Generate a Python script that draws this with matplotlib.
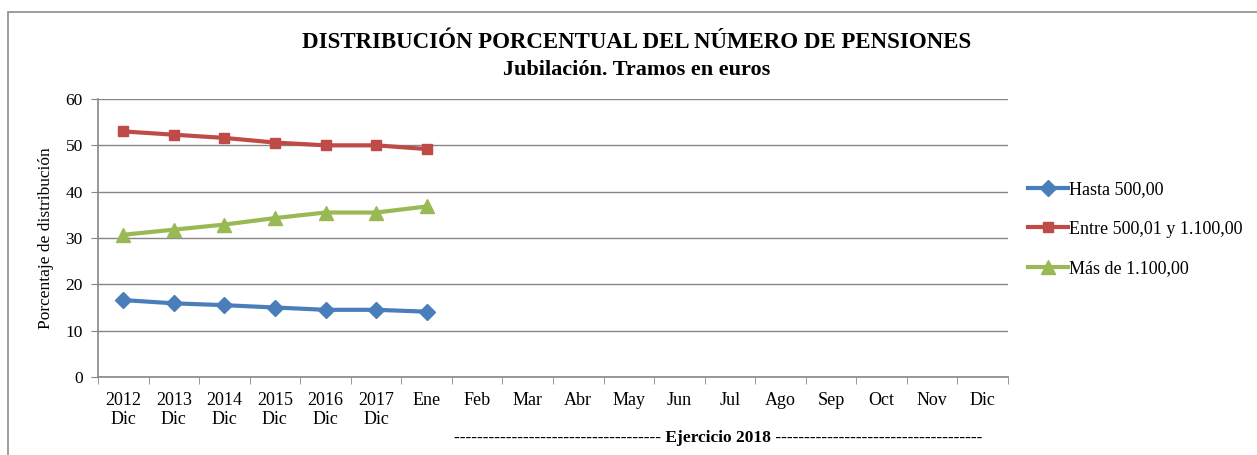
import matplotlib.pyplot as plt
import matplotlib.patches as patches
import numpy as np

plt.rcParams['font.family'] = ['Liberation Serif', 'DejaVu Serif']

# Categories (18 slots: 6 year-end points + 12 months of 2018)
categories = ['2012\nDic', '2013\nDic', '2014\nDic', '2015\nDic', '2016\nDic', '2017\nDic',
              'Ene', 'Feb', 'Mar', 'Abr', 'May', 'Jun', 'Jul', 'Ago', 'Sep', 'Oct', 'Nov', 'Dic']

hasta_500 = [16.6, 15.9, 15.5, 15.0, 14.5, 14.5, 14.1]
entre_500_1100 = [53.0, 52.3, 51.6, 50.6, 50.0, 50.0, 49.2]
mas_1100 = [30.7, 31.8, 32.9, 34.3, 35.5, 35.5, 36.8]

labels = ['Hasta 500,00', 'Entre 500,01 y 1.100,00', 'Más de 1.100,00']
colors = ['#4A7EBB', '#BE4B48', '#98B954']
markers = ['D', 's', '^']
msizes = [8, 7, 10]

fig = plt.figure(figsize=(12.57, 4.55), dpi=100)
ax = fig.add_axes([98 / 1257, 1 - 377 / 455, 910 / 1257, 278 / 455])

# outer chart frame
fig.patches.append(patches.Rectangle((8 / 1257, -0.1), 1.1, 1 - 12 / 455 + 0.1,
                                     transform=fig.transFigure, fill=False,
                                     edgecolor='#8C8C8C', linewidth=1.2))

x = np.arange(len(hasta_500))
for vals, lab, c, m, ms in zip([hasta_500, entre_500_1100, mas_1100], labels, colors, markers, msizes):
    ax.plot(x, vals, color=c, linewidth=3, marker=m, markersize=ms, label=lab, zorder=3)

ax.set_xlim(-0.5, len(categories) - 0.5)
ax.set_ylim(0, 60)
ax.set_yticks(range(0, 61, 10))
ax.set_xticks(np.arange(len(categories)))
ax.set_xticklabels(categories, fontsize=13, va='top', linespacing=1.1)
ax.set_xticks(np.arange(-0.5, len(categories), 1), minor=True)
ax.tick_params(axis='x', which='major', length=0, pad=11)
ax.tick_params(axis='x', which='minor', length=5, color='#868686', direction='out')
ax.tick_params(axis='y', labelsize=12.5, length=5, color='#868686', direction='out', pad=6)
ax.grid(axis='y', color='#868686', linewidth=1)
ax.set_axisbelow(True)
for s in ['top', 'right']:
    ax.spines[s].set_visible(False)
for s in ['left', 'bottom']:
    ax.spines[s].set_color('#868686')
    ax.spines[s].set_linewidth(1.2)

ax.set_ylabel('Porcentaje de distribución', fontsize=12.5, labelpad=8)

fig.text(637 / 1257, 1 - 43 / 455, 'DISTRIBUCIÓN PORCENTUAL DEL NÚMERO DE PENSIONES',
         fontsize=16.5, fontweight='bold', ha='center', va='center')
fig.text(637 / 1257, 1 - 70 / 455, 'Jubilación. Tramos en euros',
         fontsize=16, fontweight='bold', ha='center', va='center')

fig.text(718 / 1257, 1 - 438 / 455,
         '------------------------------------ Ejercicio 2018 ------------------------------------',
         fontsize=12.5, fontweight='bold', ha='center', va='center')

leg = fig.legend(loc='center left', bbox_to_anchor=(1012 / 1257, 1 - 229 / 455),
                 frameon=False, fontsize=13, handlelength=2.2, handletextpad=0.05,
                 labelspacing=1.25)

fig.savefig('out.png', dpi=100)
